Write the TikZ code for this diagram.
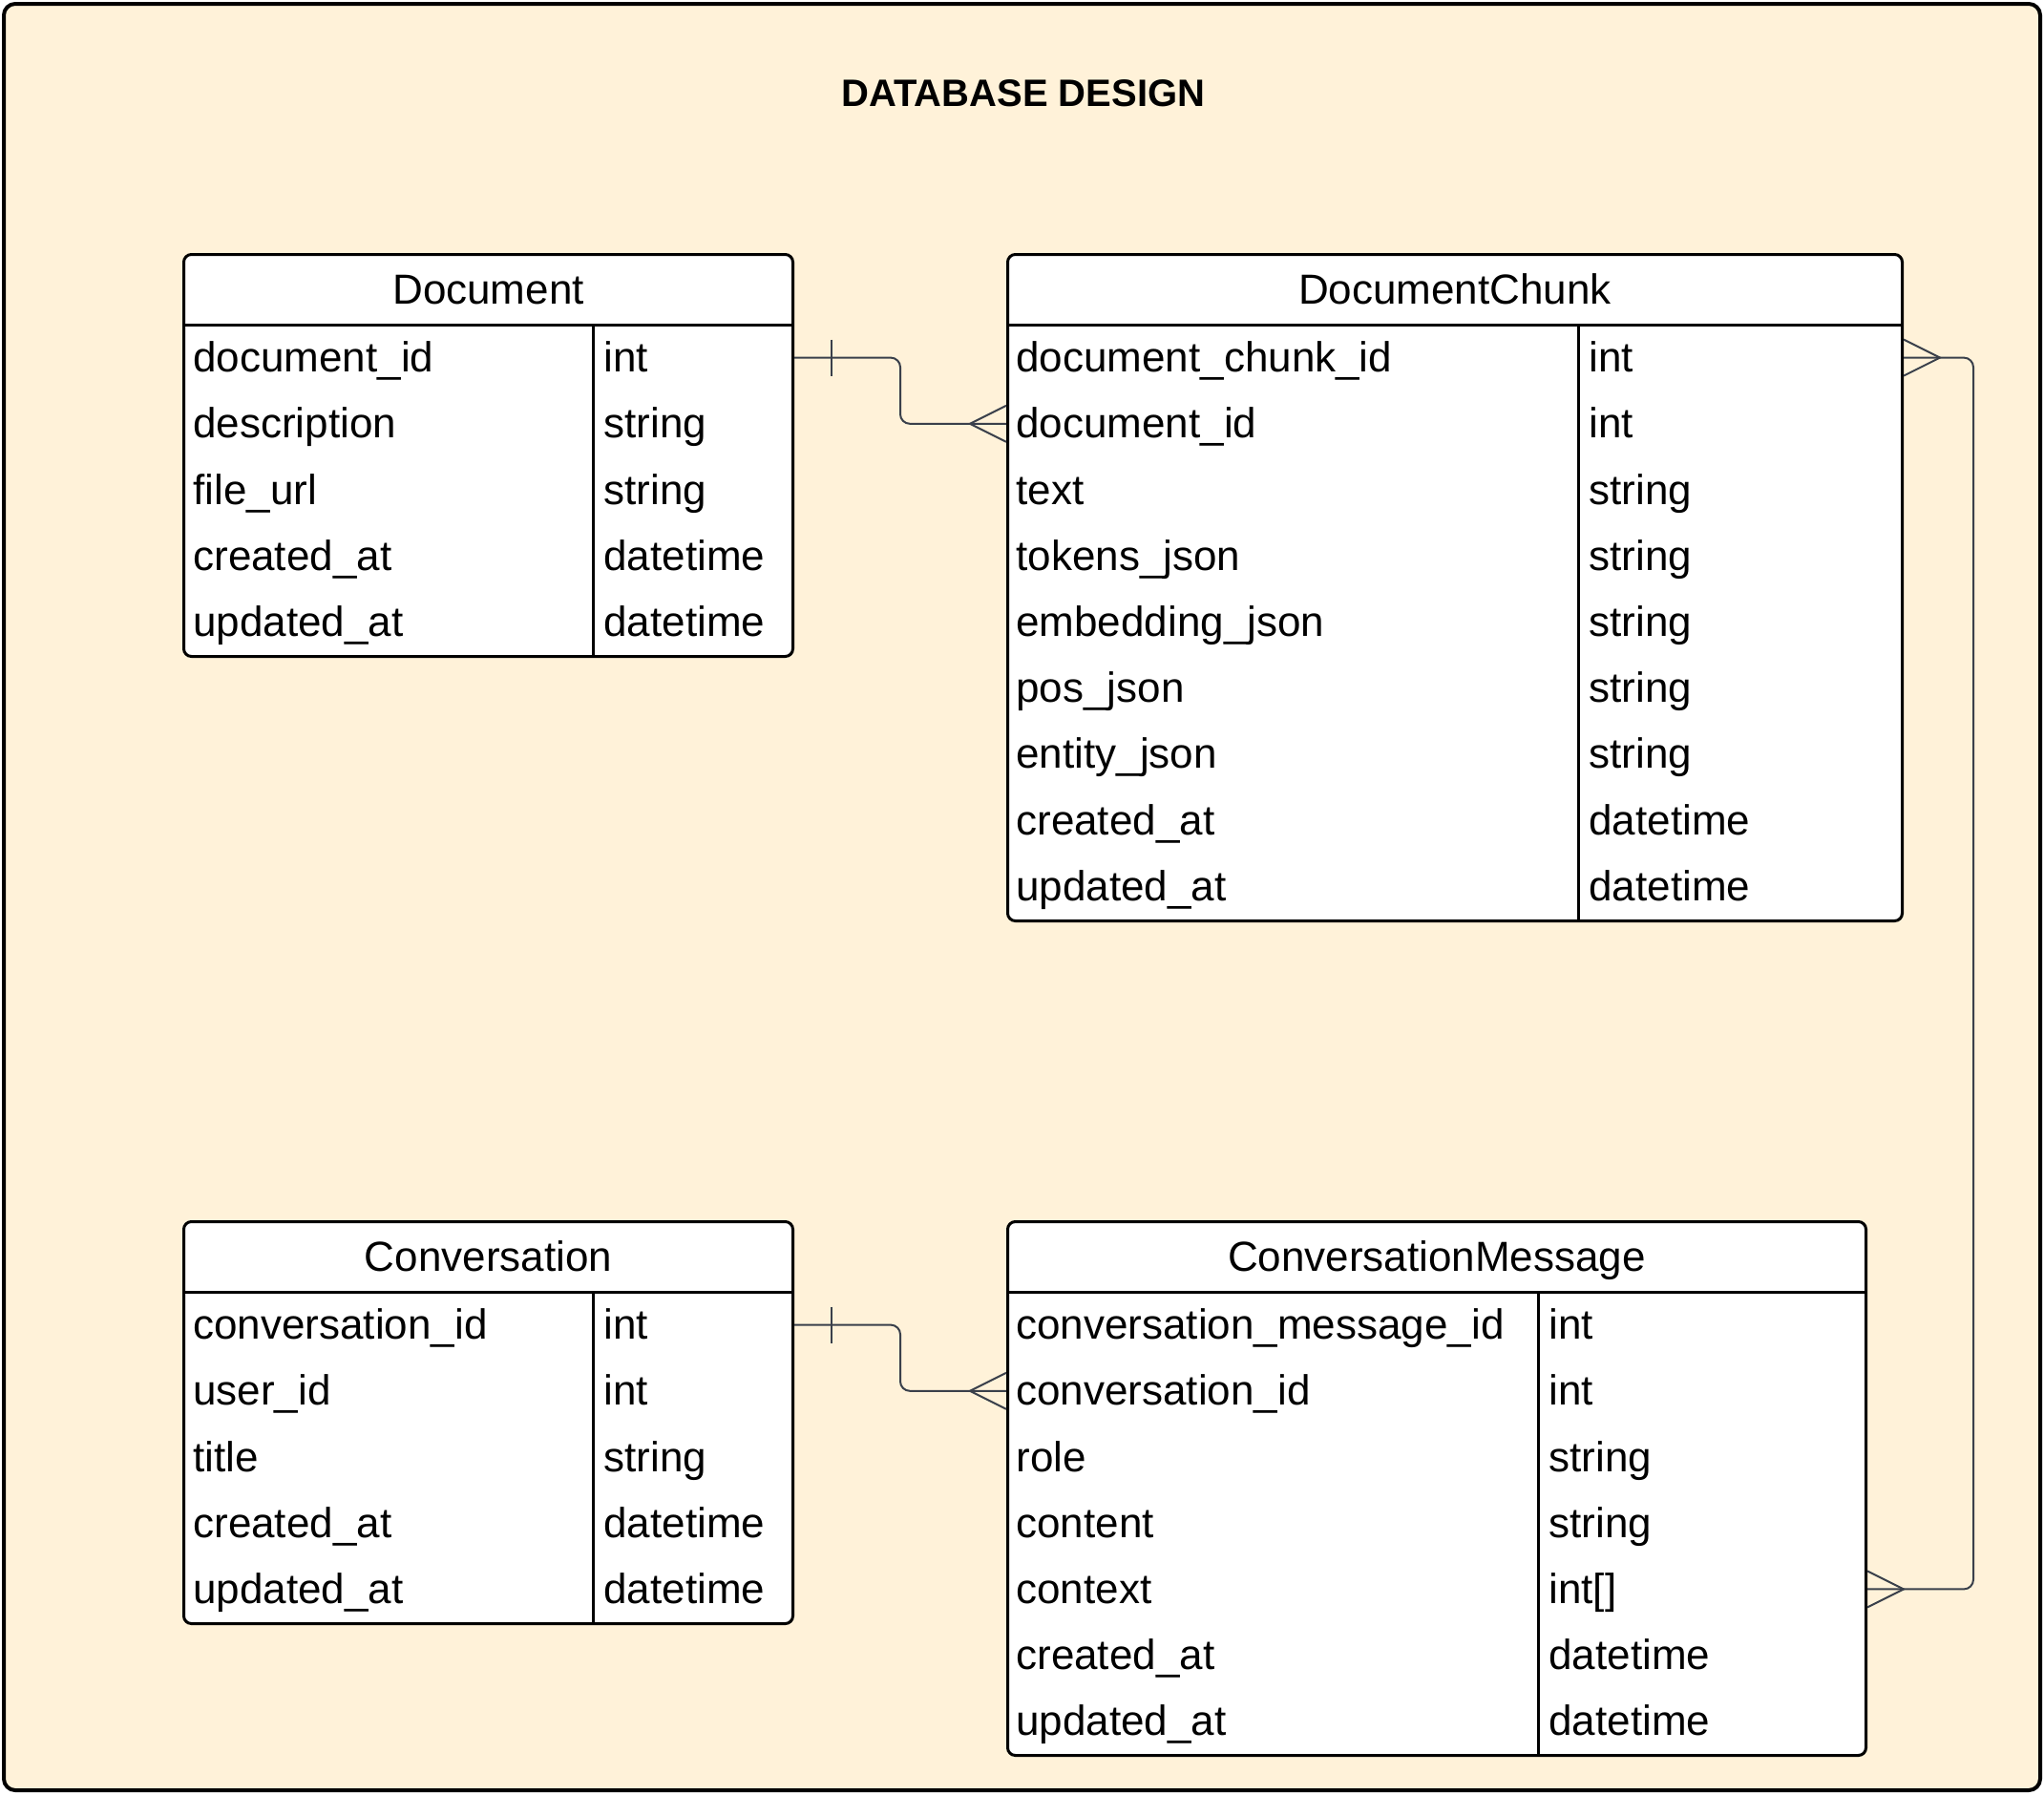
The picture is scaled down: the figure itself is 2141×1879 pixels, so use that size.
\documentclass[tikz,border=0pt]{standalone}
\usepackage{fontspec}
\setmainfont{Liberation Sans}
\usetikzlibrary{calc}
\definecolor{bgcream}{HTML}{FFF2D9}
\definecolor{linkgray}{HTML}{3A404B}
\begin{document}
\begin{tikzpicture}[x=0.5pt,y=-0.5pt,
  tbl/.style={draw=black,line width=1.5pt,fill=white,rounded corners=4pt,inner sep=0pt,anchor=north west},
  sepline/.style={draw=black,line width=1.5pt},
  hdr/.style={font=\fontsize{22}{26}\selectfont,inner sep=0pt,anchor=base},
  fld/.style={font=\fontsize{22}{26}\selectfont,inner sep=0pt,anchor=base west,text height=18pt,text depth=3pt},
  link/.style={draw=linkgray,line width=1pt},
  ttl/.style={font=\bfseries\fontsize{20}{24}\selectfont,inner sep=0pt,anchor=base}
]
\useasboundingbox (0,0) rectangle (2141,1879);
\draw[line width=2pt,fill=bgcream,rounded corners=6pt] (4,4) rectangle (2137,1875);
\node[ttl] (title) at (1072,111) {DATABASE DESIGN};

% ---------- Document ----------
\node[tbl,minimum width=319pt,minimum height=210.5pt] (doc) at (191,265) {};
\draw[sepline] (doc.west |- 0,340) -- (doc.east |- 0,340);
\draw[sepline] (621,340) -- (621,0 |- doc.south);
\node[hdr] (doc-h) at (doc.north |- 0,318) {Document};
\foreach \n/\t [count=\i] in {document\_id/int,description/string,file\_url/string,created\_at/datetime,updated\_at/datetime}{
  \node[fld] (doc-n\i) at (202,{340+69.2*\i-19.6}) {\n};
  \node[fld] (doc-t\i) at (632,{340+69.2*\i-19.6}) {\t};
}

% ---------- DocumentChunk ----------
\node[tbl,minimum width=468.5pt,minimum height=349pt] (dc) at (1054,265) {};
\draw[sepline] (dc.west |- 0,340) -- (dc.east |- 0,340);
\draw[sepline] (1653,340) -- (1653,0 |- dc.south);
\node[hdr] (dc-h) at (dc.north |- 0,318) {DocumentChunk};
\foreach \n/\t [count=\i] in {document\_chunk\_id/int,document\_id/int,text/string,tokens\_json/string,embedding\_json/string,pos\_json/string,entity\_json/string,created\_at/datetime,updated\_at/datetime}{
  \node[fld] (dc-n\i) at (1064,{340+69.2*\i-19.6}) {\n};
  \node[fld] (dc-t\i) at (1664,{340+69.2*\i-19.6}) {\t};
}

% ---------- Conversation ----------
\node[tbl,minimum width=319pt,minimum height=210.5pt] (cv) at (191,1278) {};
\draw[sepline] (cv.west |- 0,1353) -- (cv.east |- 0,1353);
\draw[sepline] (621,1353) -- (621,0 |- cv.south);
\node[hdr] (cv-h) at (cv.north |- 0,1331) {Conversation};
\foreach \n/\t [count=\i] in {conversation\_id/int,user\_id/int,title/string,created\_at/datetime,updated\_at/datetime}{
  \node[fld] (cv-n\i) at (202,{1353+69.2*\i-19.6}) {\n};
  \node[fld] (cv-t\i) at (632,{1353+69.2*\i-19.6}) {\t};
}

% ---------- ConversationMessage ----------
\node[tbl,minimum width=449.5pt,minimum height=279.5pt] (cm) at (1054,1278) {};
\draw[sepline] (cm.west |- 0,1353) -- (cm.east |- 0,1353);
\draw[sepline] (1611,1353) -- (1611,0 |- cm.south);
\node[hdr] (cm-h) at (cm.north |- 0,1331) {ConversationMessage};
\foreach \n/\t [count=\i] in {conversation\_message\_id/int,conversation\_id/int,role/string,content/string,context/{int[]},created\_at/datetime,updated\_at/datetime}{
  \node[fld] (cm-n\i) at (1064,{1353+69.2*\i-19.6}) {\n};
  \node[fld] (cm-t\i) at (1622,{1353+69.2*\i-19.6}) {\t};
}

% ---------- connectors ----------
\coordinate (m1) at ($(doc.east)!0.5!(dc.west)$);
\coordinate (m2) at ($(cv.east)!0.5!(cm.west)$);
\coordinate (rx) at (2067,0);

% Document -> DocumentChunk
\draw[link,rounded corners=5pt] (doc.east |- doc-n1) -- (m1 |- doc-n1) -- (m1 |- dc-n2) -- (dc.west |- dc-n2);
\draw[link] ($(doc.east |- doc-n1)+(39,-19)$) -- ++(0,38);
\draw[link] ($(dc.west |- dc-n2)+(0,-19)$) -- ++(-38,19) -- ++(38,19);

% Conversation -> ConversationMessage
\draw[link,rounded corners=5pt] (cv.east |- cv-n1) -- (m2 |- cv-n1) -- (m2 |- cm-n2) -- (cm.west |- cm-n2);
\draw[link] ($(cv.east |- cv-n1)+(39,-19)$) -- ++(0,38);
\draw[link] ($(cm.west |- cm-n2)+(0,-19)$) -- ++(-38,19) -- ++(38,19);

% DocumentChunk <-> ConversationMessage
\draw[link,rounded corners=5pt] (dc.east |- dc-n1) -- (rx |- dc-n1) -- (rx |- cm-n5) -- (cm.east |- cm-n5);
\draw[link] ($(dc.east |- dc-n1)+(0,-19)$) -- ++(38,19) -- ++(-38,19);
\draw[link] ($(cm.east |- cm-n5)+(0,-19)$) -- ++(38,19) -- ++(-38,19);
\end{tikzpicture}
\end{document}
